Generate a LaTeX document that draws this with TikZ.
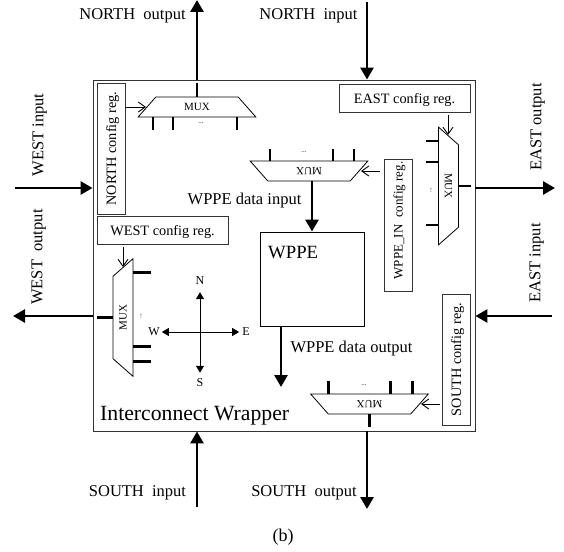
\documentclass[tikz,border=0pt]{standalone}
\usepackage{fontspec}
\setmainfont{Liberation Serif}
\usetikzlibrary{positioning,shapes.geometric,arrows.meta}

\begin{document}
\begin{tikzpicture}[
    x=1pt, y=-1pt,
    wrapper/.style={rectangle, draw=black!80, line width=0.9pt, inner sep=0pt},
    cfgreg/.style={rectangle, draw=black!80, line width=0.9pt, inner sep=0pt, minimum width=131pt, minimum height=28pt, text depth=0pt, font=\fontsize{14.3}{14.3}\selectfont},
    mux/.style={trapezium, draw=black, line width=0.8pt, inner sep=0pt, trapezium stretches=true, trapezium angle=53, minimum width=118pt, minimum height=20pt, font=\fontsize{11}{11}\selectfont},
    dots/.style={font=\fontsize{7}{7}\selectfont, inner sep=0pt},
    bus/.style={draw=black, line width=2.8pt},
    busarrow/.style={draw=black, line width=2.8pt, -{Triangle[length=12pt,width=13pt]}},
    stub/.style={draw=black, line width=2.2pt},
    ctrl/.style={draw=black, line width=0.9pt, -{Straight Barb[length=7pt,width=10pt]}},
    compass/.style={draw=black, line width=0.9pt, -{Triangle[length=7pt,width=8pt]}},
    compasslbl/.style={font=\fontsize{12}{12}\selectfont, inner sep=0pt},
    lbl/.style={font=\fontsize{16.5}{16.5}\selectfont, text depth=0pt, inner sep=0pt}
]
    \useasboundingbox (0,0) rectangle (564,551);

    \node [wrapper, minimum width=382pt, minimum height=351pt] (wrap) at (284,255.5) {};
    \node [lbl, font=\fontsize{21.7}{21.7}\selectfont, anchor=west] (wraplbl) at (100,413) {Interconnect Wrapper};

    % config registers
    \node [cfgreg, rotate=90] (northcfg) at (111,148.5) {NORTH config reg.};
    \node [cfgreg] (westcfg) at (162.5,230) {WEST config reg.};
    \node [cfgreg] (eastcfg) at (404.5,98) {EAST config reg.};
    \node [cfgreg, minimum width=132pt, rotate=90, font=\fontsize{13}{13}\selectfont] (wppecfg) at (398,225) {\hspace{9pt}WPPE\_IN\ \ config reg.};
    \node [cfgreg, rotate=90] (southcfg) at (456,359.5) {SOUTH config reg.};

    % multiplexers
    \node [mux] (northmux) at (197,107) {MUX};
    \node [mux, rotate=180] (wppemux) at (309,171) {MUX};
    \node [mux, rotate=-90] (eastmux) at (448.5,186) {MUX};
    \node [mux, rotate=90] (westmux) at (123,317.5) {MUX};
    \node [mux, rotate=180] (southmux) at (369.5,404) {MUX};

    \node [rectangle, draw=black, line width=0.9pt, minimum width=104pt, minimum height=94pt, inner sep=0pt] (wppe) at (312,279) {};
    \node [lbl, font=\fontsize{18.7}{18.7}\selectfont, anchor=west] (wppelbl) at (268,252) {WPPE};

    % mux inputs
    \foreach \x in {-44,-24,40} \draw [stub] ([xshift=\x pt]northmux.south) -- ++(0,13);
    \foreach \x in {-39,24,45} \draw [stub] ([xshift=\x pt]wppemux.south) -- ++(0,-12);
    \foreach \y in {-45,-24,39} \draw [stub] ([yshift=-\y pt]eastmux.south) -- ++(-12,0);
    \foreach \y in {-45,29,44} \draw [stub] ([yshift=-\y pt]westmux.south) -- ++(18,0);
    \foreach \x in {-41,21,43} \draw [stub] ([xshift=\x pt]southmux.south) -- ++(0,-13);

    % dots
    \node [dots] (northdots) at (201,123) {...};
    \node [dots] (wppedots) at (304,152) {...};
    \node [dots, rotate=90] (eastdots) at (431,190) {...};
    \node [dots, rotate=90] (westdots) at (141,316) {...};
    \node [dots] (southdots) at (364,385) {...};

    % config arrows
    \coordinate (northtip) at (146,107);
    \coordinate (wppetip) at (361,171);
    \coordinate (easttip) at (448,135);
    \coordinate (westtip) at (123,267);
    \coordinate (southtip) at (421,404);
    \path [ctrl] (northcfg.south |- northtip) -- (northtip);
    \path [ctrl] (wppecfg.north |- wppetip) ++(-4,0) -- (wppetip);
    \path [ctrl] (eastcfg.south -| easttip) ++(0,3) -- (easttip);
    \path [ctrl] (westcfg.south -| westtip) ++(0,3) -- (westtip);
    \path [ctrl] (southcfg.north |- southtip) ++(-2,0) -- (southtip);

    % external ports
    \coordinate (northout) at (197,0);
    \coordinate (northin) at (367,2);
    \coordinate (westin) at (15,188);
    \coordinate (westout) at (13,316);
    \coordinate (eastout) at (555,188);
    \coordinate (eastin) at (552,316);
    \coordinate (southin) at (197,507);
    \coordinate (southout) at (367,509);
    \coordinate (wppein) at (312,181);
    \coordinate (wppeout) at (281,387);

    \path [bus] (northmux.north) -- ++(0,-14);
    \path [busarrow] (wrap.north -| northout) -- (northout);
    \path [busarrow] (northin) -- (wrap.north -| northin);
    \path [busarrow] (westin) -- (wrap.west |- westin);
    \path [bus] (westmux.north) -- ++(-16,0);
    \path [busarrow] (wrap.west |- westout) -- (westout);
    \path [bus] (eastmux.north) -- ++(12,0);
    \path [busarrow] (wrap.east |- eastout) -- (eastout);
    \path [busarrow] (eastin) -- (wrap.east |- eastin);
    \path [busarrow] (southin) -- (wrap.south -| southin);
    \path [bus] (southmux.north) -- ++(0,13);
    \path [busarrow] (wrap.south -| southout) -- (southout);
    \path [busarrow] (wppein) -- (wppein |- wppe.north);
    \path [busarrow] (wppeout |- wppe.south) -- (wppeout);

    % compass
    \coordinate (centre) at (200,332);
    \node [compasslbl] (compn) at (200,281) {N};
    \node [compasslbl] (comps) at (200,383) {S};
    \node [compasslbl] (compw) at (154,332) {W};
    \node [compasslbl] (compe) at (246,332) {E};
    \path [compass, shorten >=7pt] (centre) -- (compn.south);
    \path [compass, shorten >=6pt] (centre) -- (comps.north);
    \path [compass, shorten >=2pt] (centre) -- (compw.east);
    \path [compass, shorten >=3pt] (centre) -- (compe.west);

    % labels
    \node [lbl] (northoutlbl) at (132.5,14) {NORTH\ \ output};
    \node [lbl] (northinlbl) at (308.5,14) {NORTH\ \ input};
    \node [lbl, rotate=90] (westinlbl) at (38,135) {WEST input};
    \node [lbl, rotate=90] (westoutlbl) at (37,257) {WEST\ \ output};
    \node [lbl, rotate=90] (eastoutlbl) at (536,127) {EAST output};
    \node [lbl, rotate=90] (eastinlbl) at (535,263) {EAST input};
    \node [lbl] (southinlbl) at (137.5,491) {SOUTH\ \ input};
    \node [lbl] (southoutlbl) at (304,491) {SOUTH\ \ output};
    \node [lbl] (wppeinlbl) at (244.5,199) {WPPE data input};
    \node [lbl] (wppeoutlbl) at (351.5,347) {WPPE data output};
    \node [lbl, font=\fontsize{18}{18}\selectfont] (caption) at (283,535) {(b)};
\end{tikzpicture}
\end{document}
